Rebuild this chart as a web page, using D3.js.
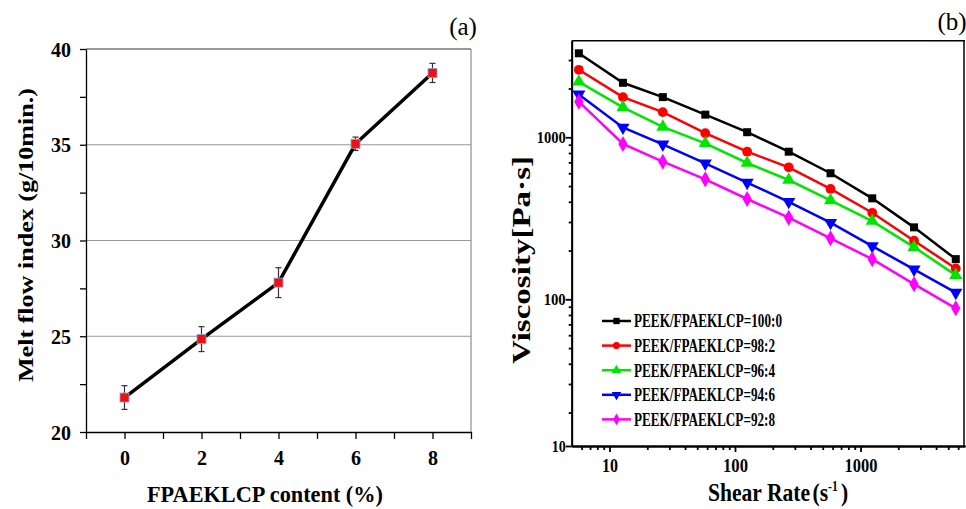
<!DOCTYPE html>
<html lang="en">
  <head>
    <meta charset="UTF-8" />
    <title>Melt flow index and viscosity</title>
    <style>
      body { margin: 0; background: #fff; }
      svg { display: block; }
    </style>
  </head>
  <body>
    <div id="viz"></div>
    <script src="https://cdnjs.cloudflare.com/ajax/libs/d3/7.8.5/d3.min.js"></script>
    <script>
      // (a) melt flow index
      const content = [0, 2, 4, 6, 8];
      const mfi = [21.8, 24.85, 27.8, 35.05, 38.75];
      const mfiErr = [0.62, 0.65, 0.78, 0.35, 0.5];
      const mfiTicks = [20, 25, 30, 35, 40];

      // (b) viscosity vs shear rate
      const shearRate = [5.7, 12.8, 26.6, 58, 125, 268, 577, 1240, 2670, 5740];
      const series = ["PEEK/FPAEKLCP=100:0", "PEEK/FPAEKLCP=98:2", "PEEK/FPAEKLCP=96:4",
                      "PEEK/FPAEKLCP=94:6", "PEEK/FPAEKLCP=92:8"];
      const v100 = [3300, 2170, 1770, 1380, 1075, 815, 600, 420, 278, 177];
      const v98 = [2610, 1770, 1430, 1060, 815, 653, 480, 342, 230, 155];
      const v96 = [2200, 1530, 1160, 918, 694, 545, 408, 304, 210, 141];
      const v94 = [1840, 1150, 905, 691, 525, 400, 297, 213, 153, 110];
      const v92 = [1660, 909, 707, 550, 416, 319, 238, 177, 124, 88];
      const viscosity = [v100, v98, v96, v94, v92];
      const xTicksB = [10, 100, 1000];
      const yTicksB = [100, 1000];

      const colors = ["#000000", "#ff0000", "#00e600", "#0000ff", "#ff00ff"];
      const symbols = [d3.symbolSquare, d3.symbolCircle, d3.symbolTriangle, d3.symbolTriangle, d3.symbolDiamond];
      const serif = "'Liberation Serif', 'Times New Roman', Times, serif";

      const svg = d3.select("#viz").append("svg")
        .attr("width", 966)
        .attr("height", 509);

      // ---------- panel (a) ----------
      let x = d3.scaleLinear().domain([-1, 9]).range([86, 471]);
      let y = d3.scaleLinear().domain([20, 40]).range([432, 49]);

      let a = svg.append("g");

      a.append("g")
        .selectAll("line")
        .data([25, 30, 35])
        .join("line")
        .attr("x1", x(-1)).attr("x2", x(9))
        .attr("y1", d => y(d)).attr("y2", d => y(d))
        .attr("stroke", "#999").attr("stroke-width", 1);

      a.append("line")
        .attr("x1", x(-1)).attr("x2", x(9))
        .attr("y1", y(40)).attr("y2", y(40))
        .attr("stroke", "#333");
      a.append("line")
        .attr("x1", x(9)).attr("x2", x(9))
        .attr("y1", y(40)).attr("y2", y(20))
        .attr("stroke", "#777");

      let yAxA = a.append("g")
        .attr("transform", `translate(${x(-1)},0)`)
        .call(d3.axisLeft(y).tickValues(d3.range(20, 40.1, 2.5)).tickSize(6)
          .tickSizeOuter(0).tickFormat(d => mfiTicks.includes(d) ? d : ""));
      yAxA.selectAll("text").attr("font-size", 20).attr("x", -15).attr("dy", "0.35em");

      let xAxA = a.append("g")
        .attr("transform", `translate(0,${y(20)})`)
        .call(d3.axisBottom(x).tickValues(d3.range(-1, 9.1, 1)).tickSize(7)
          .tickSizeOuter(0).tickFormat(d => content.includes(d) ? d : ""));
      xAxA.selectAll("text").attr("font-size", 20).attr("y", 19);
      a.selectAll(".domain, .tick line").attr("stroke", "#000").attr("stroke-width", 1.3);

      // error bars
      let eb = a.append("g").attr("stroke", "#333").attr("stroke-width", 1.2);
      content.forEach((c, i) => {
        eb.append("line")
          .attr("x1", x(c)).attr("x2", x(c))
          .attr("y1", y(mfi[i] - mfiErr[i])).attr("y2", y(mfi[i] + mfiErr[i]));
        [mfi[i] - mfiErr[i], mfi[i] + mfiErr[i]].forEach(v => {
          eb.append("line")
            .attr("x1", x(c) - 3).attr("x2", x(c) + 3)
            .attr("y1", y(v)).attr("y2", y(v));
        });
      });

      a.append("path")
        .datum(content.map((c, i) => [c, mfi[i]]))
        .attr("fill", "none")
        .attr("stroke", "#000")
        .attr("stroke-width", 3.5)
        .attr("d", d3.line().x(d => x(d[0])).y(d => y(d[1])));

      a.selectAll(".pt")
        .data(content.map((c, i) => [c, mfi[i]]))
        .join("rect")
        .attr("class", "pt")
        .attr("x", d => x(d[0]) - 4.5).attr("y", d => y(d[1]) - 4.5)
        .attr("width", 9).attr("height", 9)
        .attr("fill", "#ee1111")
        .attr("stroke", "#9aa0d0").attr("stroke-width", 0.8);

      a.append("text")
        .attr("transform", "translate(33,235) rotate(-90)")
        .attr("text-anchor", "middle")
        .attr("font-size", 21)
        .attr("textLength", 294)
        .text("Melt flow index (g/10min.)");

      a.append("text")
        .attr("x", 265).attr("y", 502)
        .attr("text-anchor", "middle")
        .attr("font-size", 23)
        .attr("textLength", 236)
        .text("FPAEKLCP content (%)");

      a.append("text")
        .attr("x", 463).attr("y", 35)
        .attr("text-anchor", "middle")
        .attr("font-size", 25)
        .attr("class", "plain")
        .text("(a)");

      // ---------- panel (b) ----------
      let xb = d3.scaleLog().domain([5, 6800]).range([571.7, 965]);
      let yb = d3.scaleLog().domain([12.43, 3947]).range([446, 40.7]);

      let b = svg.append("g");

      b.append("line")
        .attr("x1", xb(5)).attr("x2", xb(6800))
        .attr("y1", yb(3947)).attr("y2", yb(3947))
        .attr("stroke", "#000").attr("stroke-width", 1.5);
      b.append("line")
        .attr("x1", xb(6800) - 1).attr("x2", xb(6800) - 1)
        .attr("y1", yb(3947)).attr("y2", yb(12.43))
        .attr("stroke", "#000").attr("stroke-width", 1.5);

      let minorY = [20, 30, 40, 50, 60, 70, 80, 90, 200, 300, 400, 500, 600, 700, 800, 900, 2000, 3000];
      let minorX = [6, 7, 8, 9, 20, 30, 40, 50, 60, 70, 80, 90, 200, 300, 400, 500, 600, 700, 800, 900,
                    2000, 3000, 4000, 5000, 6000];

      b.append("g")
        .attr("transform", `translate(${xb(5)},0)`)
        .call(d3.axisLeft(yb).tickValues(minorY).tickSize(3).tickFormat("").tickSizeOuter(0));
      let yAxB = b.append("g")
        .attr("transform", `translate(${xb(5)},0)`)
        .call(d3.axisLeft(yb).tickValues([12.43].concat(yTicksB)).tickSize(6)
          .tickSizeOuter(0).tickFormat(d => d < 20 ? "10" : d));
      yAxB.selectAll("text").attr("font-size", 16).attr("x", -6).attr("dy", "0.35em")
        .attr("textLength", d => d < 20 ? 14 : d < 500 ? 22 : 29);

      b.append("g")
        .attr("transform", `translate(0,${yb(12.43)})`)
        .call(d3.axisBottom(xb).tickValues(minorX).tickSize(4).tickFormat("").tickSizeOuter(0));
      let xAxB = b.append("g")
        .attr("transform", `translate(0,${yb(12.43)})`)
        .call(d3.axisBottom(xb).tickValues(xTicksB).tickSize(6).tickSizeOuter(0).tickFormat(d => d));
      xAxB.selectAll("text").attr("font-size", 18).attr("y", 13)
        .attr("textLength", d => d < 50 ? 16 : d < 500 ? 25 : 33);
      b.selectAll(".domain, .tick line").attr("stroke", "#000").attr("stroke-width", 1.8);

      let sym = (i, s) => d3.symbol().type(symbols[i]).size(s)();

      viscosity.forEach((vals, i) => {
        let pts = shearRate.map((r, j) => [r, vals[j]]);
        b.append("path")
          .datum(pts)
          .attr("fill", "none")
          .attr("stroke", colors[i])
          .attr("stroke-width", 2.5)
          .attr("d", d3.line().x(d => xb(d[0])).y(d => yb(d[1])));
        b.append("g").selectAll("path")
          .data(pts)
          .join("path")
          .attr("transform", d => `translate(${xb(d[0])},${yb(d[1])})` + (i === 3 ? " rotate(180)" : ""))
          .attr("d", sym(i, i === 0 ? 64 : 75))
          .attr("fill", colors[i]);
      });

      // legend
      let lg = b.append("g");
      series.forEach((name, i) => {
        let ly = 321 + i * 24.6;
        lg.append("line")
          .attr("x1", 602).attr("x2", 631)
          .attr("y1", ly).attr("y2", ly)
          .attr("stroke", colors[i]).attr("stroke-width", 2.5);
        lg.append("path")
          .attr("transform", `translate(616.5,${ly})` + (i === 3 ? " rotate(180)" : ""))
          .attr("d", sym(i, 40))
          .attr("fill", colors[i]);
        lg.append("text")
          .attr("x", 634).attr("y", ly)
          .attr("dy", "0.35em")
          .attr("font-size", 18)
          .attr("textLength", i === 0 ? 148 : 141)
          .text(name);
      });

      b.append("text")
        .attr("transform", "translate(530,260) rotate(-90)")
        .attr("text-anchor", "middle")
        .attr("font-size", 26)
        .attr("textLength", 208)
        .text("Viscosity[Pa·s]");

      let xl = b.append("text")
        .attr("transform", "translate(708,501) scale(0.83,1)")
        .attr("font-size", 26);
      xl.append("tspan").text("Shear Rate");
      xl.append("tspan").attr("dx", 3).text("(s");
      xl.append("tspan").attr("font-size", 14).attr("dy", -10).text("-1");
      xl.append("tspan").attr("dy", 10).attr("dx", 4).text(")");

      b.append("text")
        .attr("x", 952).attr("y", 30)
        .attr("text-anchor", "middle")
        .attr("font-size", 25)
        .attr("class", "plain")
        .text("(b)");

      svg.selectAll("text")
        .style("font-family", serif)
        .style("font-weight", "bold")
        .style("fill", "#000");
      svg.selectAll("text.plain").style("font-weight", "normal");
      svg.selectAll("text[textLength]").attr("lengthAdjust", "spacingAndGlyphs");
    </script>
  </body>
</html>
